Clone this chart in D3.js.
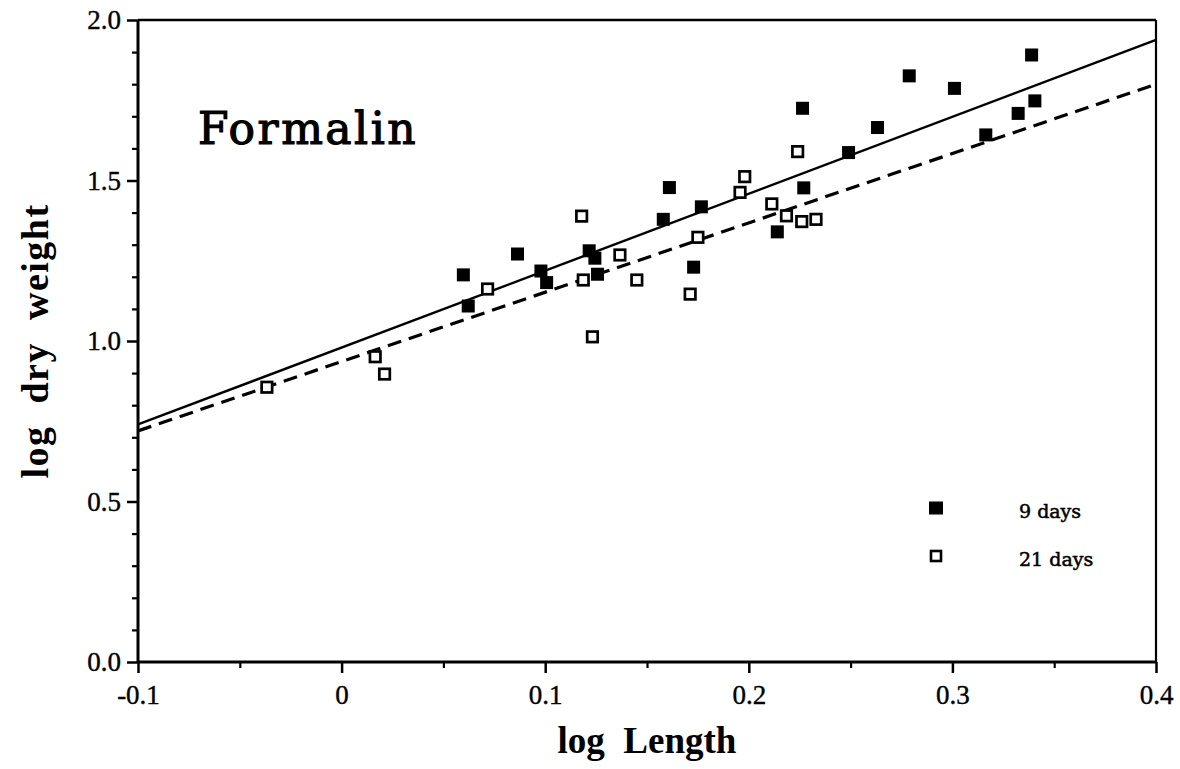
<!DOCTYPE html>
<html>
<head>
<meta charset="utf-8">
<script src="https://cdn.jsdelivr.net/npm/d3@7"></script>
<style>
  html, body { margin: 0; padding: 0; background: #fff; }
  svg { display: block; }
  text { white-space: pre; }
</style>
</head>
<body>
<svg id="chart" width="1180" height="769"></svg>
<script>
// ---- data ----
const day9X  = [0.0598, 0.0622, 0.0864, 0.0979, 0.1007, 0.1216, 0.1244, 0.1257, 0.158, 0.161, 0.1767, 0.1729, 0.214, 0.2264, 0.227, 0.249, 0.2632, 0.2788, 0.301, 0.3164, 0.3323, 0.3389, 0.3405];
const day9Y  = [1.206, 1.109, 1.271, 1.218, 1.182, 1.281, 1.258, 1.208, 1.379, 1.478, 1.418, 1.230, 1.340, 1.725, 1.477, 1.587, 1.665, 1.826, 1.787, 1.642, 1.709, 1.891, 1.748];
const day21X = [-0.0367, 0.0165, 0.0211, 0.0717, 0.1179, 0.1187, 0.1232, 0.1367, 0.145, 0.1712, 0.175, 0.1957, 0.198, 0.2113, 0.2185, 0.224, 0.226, 0.233];
const day21Y = [0.856, 0.951, 0.897, 1.162, 1.389, 1.190, 1.013, 1.268, 1.190, 1.146, 1.323, 1.463, 1.512, 1.427, 1.390, 1.590, 1.372, 1.379];
const fitX   = [-0.1, 0.4];
const fit9Y  = [0.74, 1.938];
const fit21Y = [0.72, 1.80];
const xTickValues = [-0.1, 0, 0.1, 0.2, 0.3, 0.4];
const xTickLabels = ["-0.1", "0", "0.1", "0.2", "0.3", "0.4"];
const xMinorValues = [-0.05, 0.05, 0.15, 0.25, 0.35];
const yTickValues = [0, 0.5, 1.0, 1.5, 2.0];
const yTickLabels = ["0.0", "0.5", "1.0", "1.5", "2.0"];
const yMinorValues = [0.1,0.2,0.3,0.4,0.6,0.7,0.8,0.9,1.1,1.2,1.3,1.4,1.6,1.7,1.8,1.9];
const seriesNames = ["9 days", "21 days"];
const titleText = "Formalin";
const xTitle = "log  Length";
const yTitle = "log  dry  weight";

// ---- layout ----
const L = 138, R = 1156, T = 20, B = 662;
const svg = d3.select("#chart");
const x = d3.scaleLinear().domain([-0.1, 0.4]).range([L, R]);
const y = d3.scaleLinear().domain([0, 2.0]).range([B, T]);
const tickFont = "'Liberation Serif', 'Times New Roman', serif";

// minor ticks
svg.append("g").attr("transform", `translate(0,${B})`)
  .call(d3.axisBottom(x).tickValues(xMinorValues).tickSize(6).tickFormat(""))
  .call(g => g.select(".domain").remove())
  .call(g => g.selectAll("line").attr("stroke", "#000").attr("stroke-width", 2.2));
svg.append("g").attr("transform", `translate(${L},0)`)
  .call(d3.axisLeft(y).tickValues(yMinorValues).tickSize(6).tickFormat(""))
  .call(g => g.select(".domain").remove())
  .call(g => g.selectAll("line").attr("stroke", "#000").attr("stroke-width", 2.2));

// major ticks
const xAxis = svg.append("g").attr("transform", `translate(0,${B})`)
  .call(d3.axisBottom(x).tickValues(xTickValues).tickSize(11).tickPadding(12)
        .tickFormat((d, i) => xTickLabels[i]))
  .call(g => g.select(".domain").remove());
xAxis.selectAll("line").attr("stroke", "#000").attr("stroke-width", 2.5);
xAxis.selectAll("text").attr("font-family", tickFont).attr("font-size", 27).attr("fill", "#000")
  .attr("stroke", "#000").attr("stroke-width", 0.4);

const yAxis = svg.append("g").attr("transform", `translate(${L},0)`)
  .call(d3.axisLeft(y).tickValues(yTickValues).tickSize(11).tickPadding(6)
        .tickFormat((d, i) => yTickLabels[i]))
  .call(g => g.select(".domain").remove());
yAxis.selectAll("line").attr("stroke", "#000").attr("stroke-width", 2.5);
yAxis.selectAll("text").attr("font-family", tickFont).attr("font-size", 27).attr("fill", "#000")
  .attr("stroke", "#000").attr("stroke-width", 0.4);

// frame
svg.append("line").attr("x1", L).attr("x2", R).attr("y1", B).attr("y2", B).attr("stroke", "#000").attr("stroke-width", 3);
svg.append("line").attr("x1", L).attr("x2", L).attr("y1", T).attr("y2", B).attr("stroke", "#000").attr("stroke-width", 3);
svg.append("line").attr("x1", L).attr("x2", R).attr("y1", T).attr("y2", T).attr("stroke", "#000").attr("stroke-width", 2.5);
svg.append("line").attr("x1", R).attr("x2", R).attr("y1", T).attr("y2", B).attr("stroke", "#000").attr("stroke-width", 2.2);

// fit lines
const line = d3.line().x(d => x(d[0])).y(d => y(d[1]));
svg.append("path").datum(fitX.map((v, i) => [v, fit9Y[i]]))
  .attr("d", line).attr("fill", "none").attr("stroke", "#000").attr("stroke-width", 2.4);
svg.append("path").datum(fitX.map((v, i) => [v, fit21Y[i]]))
  .attr("d", line).attr("fill", "none").attr("stroke", "#000").attr("stroke-width", 3.2)
  .attr("stroke-dasharray", "14,8");

// points
const s9 = 13, s21 = 10.5;
svg.append("g").selectAll("rect").data(day9X.map((v, i) => [v, day9Y[i]])).join("rect")
  .attr("x", d => x(d[0]) - s9 / 2).attr("y", d => y(d[1]) - s9 / 2)
  .attr("width", s9).attr("height", s9).attr("fill", "#000");
svg.append("g").selectAll("rect").data(day21X.map((v, i) => [v, day21Y[i]])).join("rect")
  .attr("x", d => x(d[0]) - s21 / 2).attr("y", d => y(d[1]) - s21 / 2)
  .attr("width", s21).attr("height", s21).attr("fill", "#fff")
  .attr("stroke", "#000").attr("stroke-width", 2.7);

// title
svg.append("text").attr("x", 198).attr("y", 144)
  .attr("font-family", "'DejaVu Serif', serif").attr("font-size", 44)
  .attr("letter-spacing", 2.5).attr("fill", "#000")
  .attr("stroke", "#000").attr("stroke-width", 1.2).text(titleText);

// axis titles
svg.append("text").attr("x", (L + R) / 2).attr("y", 753).attr("text-anchor", "middle")
  .attr("font-family", tickFont).attr("font-weight", "bold").attr("font-size", 37)
  .attr("fill", "#000").text(xTitle);
svg.append("text").attr("transform", `translate(48,${(T + B) / 2}) rotate(-90)`)
  .attr("text-anchor", "middle")
  .attr("font-family", tickFont).attr("font-weight", "bold").attr("font-size", 38)
  .attr("letter-spacing", 1.5)
  .attr("fill", "#000").text(yTitle);

// legend
const legY = [508, 556];
const lg = svg.append("g");
lg.append("rect").attr("x", 936 - 7).attr("y", legY[0] - 6.5).attr("width", 14).attr("height", 13).attr("fill", "#000");
lg.append("rect").attr("x", 936 - 5).attr("y", legY[1] - 5).attr("width", 10).attr("height", 10)
  .attr("fill", "#fff").attr("stroke", "#000").attr("stroke-width", 2.6);
seriesNames.forEach((n, i) => {
  lg.append("text").attr("x", 1019).attr("y", legY[i] + 10)
    .attr("font-family", "'DejaVu Serif', serif").attr("font-size", 19)
    .attr("fill", "#000").attr("stroke", "#000").attr("stroke-width", 0.5).text(n);
});
</script>
</body>
</html>
